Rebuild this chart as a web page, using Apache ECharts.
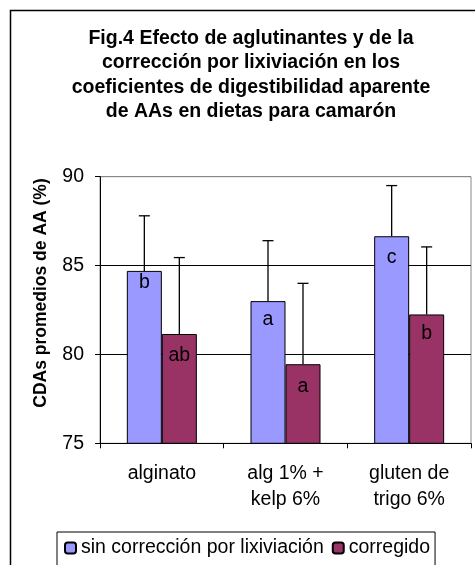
<!DOCTYPE html>
<html>
<head>
<meta charset="utf-8">
<script src="https://cdn.jsdelivr.net/npm/echarts@6/dist/echarts.min.js"></script>
<style>
  html, body { margin: 0; padding: 0; background: #fff; }
  #chart { width: 475px; height: 565px; }
</style>
</head>
<body>
<div id="chart"></div>
<script>
// datos
var categorias = ['alginato', 'alg 1% +\nkelp 6%', 'gluten de\ntrigo 6%'];
var nombresSeries = ['sin corrección por lixiviación', 'corregido'];
var sinCorreccion = [84.7, 83.0, 86.65];
var corregido = [81.15, 79.45, 82.25];
// extremo superior de la barra de error
var errSinCorreccion = [87.8, 86.4, 89.5];
var errCorregido = [85.45, 84.0, 86.05];
// letras de significancia
var letrasSin = ['b', 'a', 'c'];
var letrasCorr = ['ab', 'a', 'b'];
var yTicks = [75, 80, 85, 90];

var fuente = '"Liberation Sans", Arial, sans-serif';
var anchoBarra = 35;
var tam = 19.5;

const chart = echarts.init(document.getElementById('chart'));

function datosBarra(valores, letras, dist) {
  return valores.map(function (v, i) {
    return {
      value: v,
      label: { formatter: letras[i], distance: dist[i] }
    };
  });
}

//barras de error solo hacia arriba, con tope
function errorSeries(valores, tops, offset) {
  return {
    type: 'custom',
    z: 5,
    silent: true,
    data: valores.map(function (v, i) { return [i, v, tops[i]]; }),
    renderItem: function (params, api) {
      var p0 = api.coord([api.value(0), api.value(1)]);
      var p1 = api.coord([api.value(0), api.value(2)]);
      var x = p0[0] + offset;
      var st = { stroke: '#000', lineWidth: 1.3 };
      return {
        type: 'group',
        children: [
          { type: 'line', shape: { x1: x, y1: p0[1], x2: x, y2: p1[1] }, style: st },
          { type: 'line', shape: { x1: x - 5.5, y1: p1[1], x2: x + 5.5, y2: p1[1] }, style: st }
        ]
      };
    }
  };
}

var option = {
  animation: false,
  backgroundColor: '#fff',
  textStyle: { fontFamily: fuente },
  title: {
    text: 'Fig.4 Efecto de aglutinantes y de la\ncorrección por lixiviación en los\ncoeficientes de digestibilidad aparente\nde AAs en dietas para camarón',
    left: 246,
    top: 21,
    textAlign: 'center',
    textStyle: {
      fontFamily: fuente,
      fontSize: tam,
      fontWeight: 'bold',
      color: '#000',
      lineHeight: 24.6
    }
  },
  graphic: [{
    type: 'rect',
    shape: { x: 10.5, y: 10.5, width: 500, height: 600 },
    style: { fill: null, stroke: '#000', lineWidth: 1.5 },
    z: -1
  }],
  legend: {
    data: nombresSeries,
    left: 57,
    top: 532,
    itemWidth: 11,
    itemHeight: 11,
    itemGap: 8,
    padding: [6, 5, 30, 7],
    borderColor: '#000',
    borderWidth: 1,
    textStyle: { fontFamily: fuente, fontSize: tam, color: '#000' }
  },
  grid: {
    left: 100,
    top: 176.7,
    right: 4,
    bottom: 121.7,
    show: true,
    borderColor: '#888',
    borderWidth: 1
  },
  xAxis: {
    type: 'category',
    data: categorias,
    axisLine: { lineStyle: { color: '#000', width: 1 } },
    axisTick: { show: true, length: 5, lineStyle: { color: '#000' } },
    axisLabel: {
      fontFamily: fuente,
      fontSize: tam,
      color: '#000',
      lineHeight: 26,
      margin: 17
    }
  },
  yAxis: {
    type: 'value',
    min: yTicks[0],
    max: yTicks[yTicks.length - 1],
    interval: 5,
    name: 'CDAs promedios de AA (%)',
    nameLocation: 'middle',
    nameGap: 50,
    nameTextStyle: {
      fontFamily: fuente,
      fontSize: 17.5,
      fontWeight: 'bold',
      color: '#000',
      padding: [0, 0, 0, 34]
    },
    axisLine: { show: true, lineStyle: { color: '#000', width: 1 } },
    axisTick: { show: true, length: 5, lineStyle: { color: '#000' } },
    axisLabel: { fontFamily: fuente, fontSize: tam, color: '#000', margin: 16 },
    splitLine: { show: true, lineStyle: { color: ['#000', '#000', '#000', '#888'], width: 1 } }
  },
  series: [
    {
      name: nombresSeries[0],
      type: 'bar',
      barWidth: anchoBarra,
      barGap: '0%',
      itemStyle: { color: '#9999FF', borderColor: '#000', borderWidth: 1 },
      label: {
        show: true,
        position: 'insideTop',
        fontFamily: fuente,
        fontSize: tam,
        color: '#000'
      },
      data: datosBarra(sinCorreccion, letrasSin, [2, 9, 11])
    },
    {
      name: nombresSeries[1],
      type: 'bar',
      barWidth: anchoBarra,
      barGap: '0%',
      itemStyle: { color: '#993366', borderColor: '#000', borderWidth: 1 },
      label: {
        show: true,
        position: 'insideTop',
        fontFamily: fuente,
        fontSize: tam,
        color: '#000'
      },
      data: datosBarra(corregido, letrasCorr, [12, 12, 9])
    },
    errorSeries(sinCorreccion, errSinCorreccion, -anchoBarra / 2),
    errorSeries(corregido, errCorregido, anchoBarra / 2)
  ]
};
chart.setOption(option);
</script>
</body>
</html>
